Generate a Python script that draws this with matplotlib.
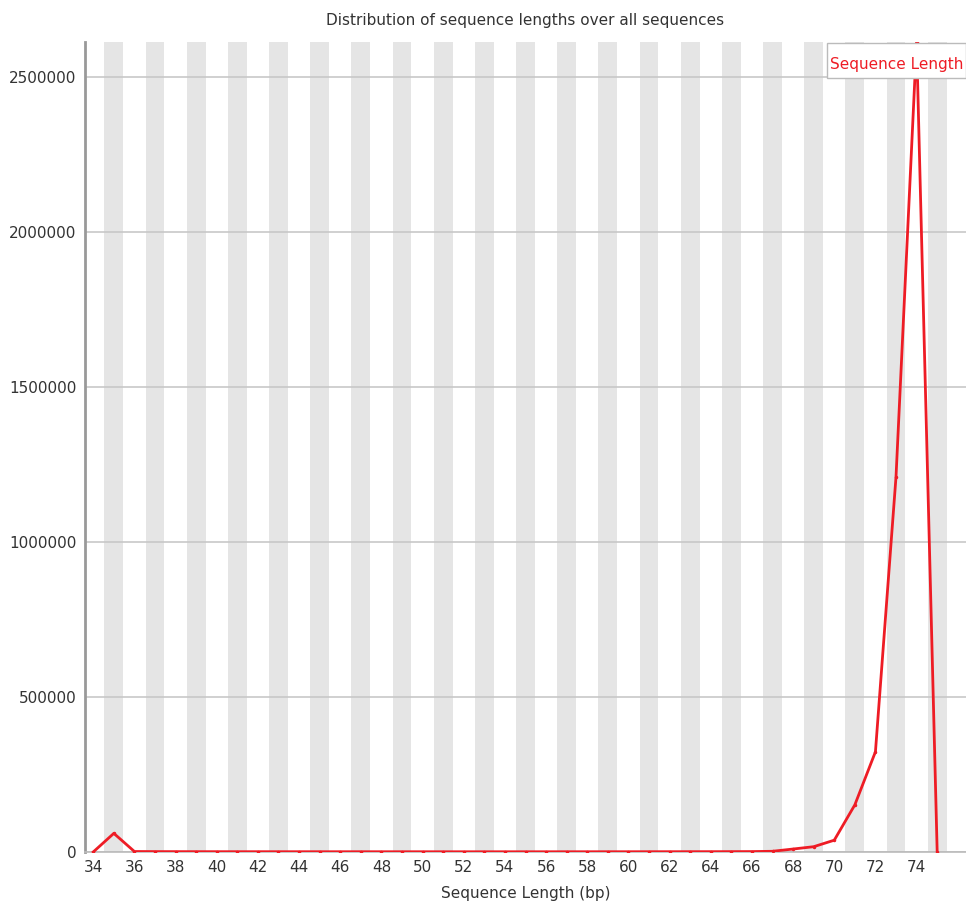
import numpy as np
import matplotlib.pyplot as plt
from matplotlib.patches import Rectangle

# sequence lengths (bp) and read counts
lengths = list(range(34, 76))
counts = [0, 60000, 1500, 1200, 1100, 1000, 950, 900, 900, 850,
          850, 800, 800, 800, 750, 750, 750, 700, 700, 700,
          700, 700, 700, 750, 750, 800, 800, 850, 900, 950,
          1000, 1100, 1300, 2200, 9500, 17000, 38000, 152000, 323000, 1210000,
          2612000, 0]
tick_labels = [str(v) for v in range(34, 76, 2)]
y_ticks = [0, 500000, 1000000, 1500000, 2000000, 2500000]

fig = plt.figure(figsize=(9.66, 9.16), dpi=100)
ax = fig.add_axes([0.088, 0.0699, 0.912, 0.8843])

# alternating grey bands, one per odd length
for v in lengths:
    if v % 2 == 1:
        ax.axvspan(v - 0.46, v + 0.46, color='#e5e5e5', lw=0, zorder=0)

for yv in y_ticks:
    ax.axhline(yv, color='#c8c8c8', lw=1.2, zorder=1)

ax.plot(lengths, counts, color='#ee1c25', lw=2, marker='o', ms=1.5, zorder=3)

ax.set_xlim(33.6, 76.4)
ax.set_ylim(0, max(counts))
ax.set_xticks(range(34, 76, 2))
ax.set_xticklabels(tick_labels)
ax.set_yticks(y_ticks)
ax.set_yticklabels([str(v) for v in y_ticks])
ax.tick_params(length=0, labelsize=11, colors='#333333', pad=6)

for s in ['top', 'right']:
    ax.spines[s].set_visible(False)
ax.spines['left'].set_color('#999999')
ax.spines['left'].set_linewidth(2)
ax.spines['bottom'].set_color('#bbbbbb')
ax.spines['bottom'].set_linewidth(1.2)

ax.set_title('Distribution of sequence lengths over all sequences',
             fontsize=11, color='#333333', pad=12)
ax.set_xlabel('Sequence Length (bp)', fontsize=11, color='#333333', labelpad=8)

# legend box
ax.add_patch(Rectangle((0.842, 0.9556), 0.158, 0.0432, transform=ax.transAxes,
                       facecolor='white', edgecolor='#bbbbbb', lw=1,
                       zorder=5, clip_on=False))
ax.text(0.921, 0.9716, 'Sequence Length', transform=ax.transAxes,
        ha='center', va='center', color='#ee1c25', fontsize=11, zorder=6)

plt.savefig('out.png', dpi=100)
